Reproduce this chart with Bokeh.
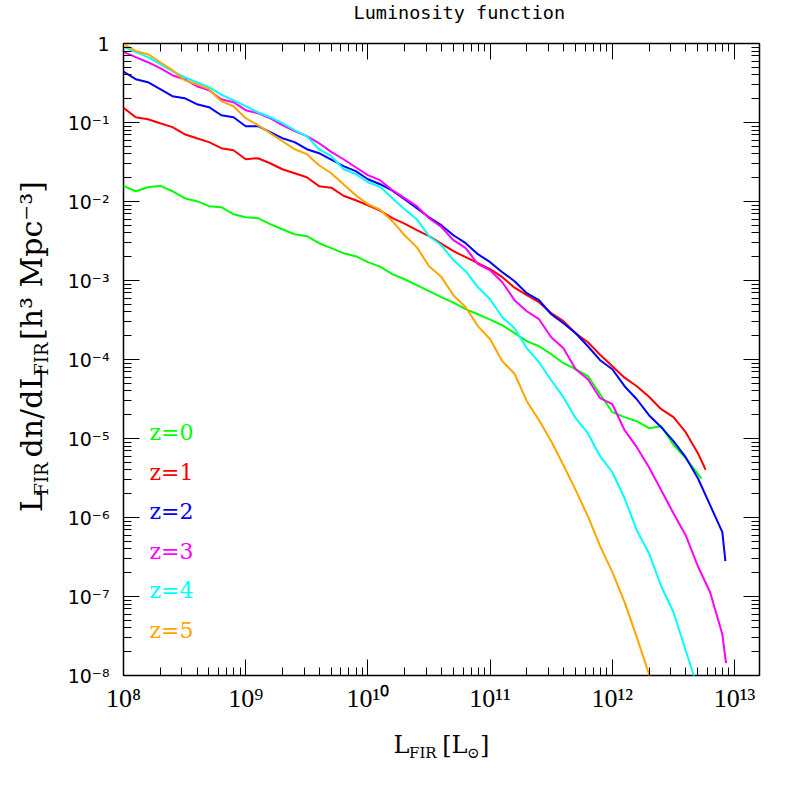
import math
from bokeh.plotting import figure
from bokeh.layouts import column, row
from bokeh.models import Range1d, FixedTicker, LogAxis, Label, CustomJSTickFormatter
from bokeh.core.properties import value
from bokeh.embed import file_html
from bokeh.resources import INLINE

# ---------------- data (log10 values) ----------------
LOG_L = [8.0, 8.1, 8.2, 8.3, 8.4, 8.5, 8.6, 8.7, 8.8, 8.9,
         9.0, 9.1, 9.2, 9.3, 9.4, 9.5, 9.6, 9.7, 9.8, 9.9,
         10.0, 10.1, 10.2, 10.3, 10.4, 10.5, 10.6, 10.7, 10.8, 10.9,
         11.0, 11.1, 11.2, 11.3, 11.4, 11.5, 11.6, 11.7, 11.8, 11.9,
         12.0, 12.1, 12.2, 12.3, 12.4, 12.5, 12.6, 12.7, 12.8, 12.9]

z0_logL = LOG_L[:48] + [12.73]
z0_logphi = [-1.803, -1.870, -1.819, -1.800, -1.870, -1.958, -1.996, -2.059, -2.072, -2.161,
             -2.199, -2.211, -2.287, -2.351, -2.414, -2.439, -2.528, -2.591, -2.654, -2.692,
             -2.768, -2.825, -2.920, -2.984, -3.059, -3.135, -3.211, -3.281, -3.363, -3.427,
             -3.496, -3.566, -3.667, -3.768, -3.832, -3.933, -4.047, -4.123, -4.211, -4.440,
             -4.667, -4.730, -4.781, -4.870, -4.844, -5.080, -5.249, -5.452, -5.509]

z1_logL = LOG_L[:48] + [12.763]
z1_logphi = [-0.815, -0.933, -0.958, -1.009, -1.059, -1.148, -1.199, -1.249, -1.325, -1.351,
             -1.465, -1.452, -1.516, -1.592, -1.642, -1.693, -1.806, -1.825, -1.927, -1.984,
             -2.047, -2.116, -2.211, -2.281, -2.363, -2.439, -2.534, -2.629, -2.705, -2.781,
             -2.857, -2.958, -3.091, -3.186, -3.275, -3.414, -3.515, -3.667, -3.781, -3.939,
             -4.085, -4.230, -4.338, -4.471, -4.629, -4.730, -4.920, -5.186, -5.395]

z2_logL = LOG_L[:50] + [12.925]
z2_logphi = [-0.357, -0.452, -0.490, -0.578, -0.667, -0.692, -0.768, -0.806, -0.908, -0.933,
             -1.047, -1.047, -1.123, -1.199, -1.249, -1.338, -1.389, -1.471, -1.553, -1.616,
             -1.718, -1.781, -1.863, -1.971, -2.085, -2.199, -2.300, -2.427, -2.528, -2.667,
             -2.768, -2.895, -3.009, -3.161, -3.249, -3.427, -3.541, -3.667, -3.832, -4.009,
             -4.123, -4.338, -4.503, -4.705, -4.857, -5.034, -5.237, -5.503, -5.844, -6.186,
             -6.553]

z3_logL = LOG_L[:50] + [12.93]
z3_logphi = [-0.106, -0.173, -0.237, -0.313, -0.401, -0.452, -0.541, -0.591, -0.705, -0.743,
             -0.844, -0.882, -0.946, -1.034, -1.110, -1.173, -1.262, -1.372, -1.465, -1.566,
             -1.667, -1.730, -1.857, -1.958, -2.059, -2.211, -2.322, -2.490, -2.591, -2.794,
             -2.870, -3.022, -3.249, -3.389, -3.490, -3.718, -3.857, -4.123, -4.249, -4.490,
             -4.566, -4.895, -5.110, -5.363, -5.654, -5.946, -6.224, -6.617, -6.946, -7.477,
             -7.844]

z4_logL = LOG_L[:47] + [12.677]
z4_logphi = [-0.043, -0.110, -0.173, -0.262, -0.351, -0.427, -0.490, -0.553, -0.648, -0.718,
             -0.794, -0.870, -0.933, -1.009, -1.097, -1.173, -1.338, -1.427, -1.589, -1.654,
             -1.756, -1.813, -1.958, -2.099, -2.224, -2.439, -2.553, -2.743, -2.882, -3.085,
             -3.237, -3.465, -3.604, -3.857, -4.035, -4.263, -4.477, -4.743, -4.933, -5.224,
             -5.427, -5.756, -6.161, -6.452, -6.870, -7.199, -7.680, -8.050]

z5_logL = LOG_L[:44] + [12.315]
z5_logphi = [-0.005, -0.097, -0.135, -0.237, -0.338, -0.465, -0.515, -0.578, -0.730, -0.794,
             -0.946, -1.034, -1.135, -1.237, -1.338, -1.401, -1.541, -1.642, -1.781, -1.920,
             -2.034, -2.104, -2.249, -2.427, -2.578, -2.819, -2.954, -3.186, -3.338, -3.578,
             -3.743, -4.022, -4.180, -4.528, -4.768, -5.034, -5.338, -5.654, -5.984, -6.363,
             -6.692, -7.072, -7.515, -7.984, -8.060]

series_labels = ["z=0", "z=1", "z=2", "z=3", "z=4", "z=5"]
series_colors = ["#00ff00", "#ff0000", "#0000ff", "#ff00ff", "#00ffff", "#ffa500"]
series = [(z0_logL, z0_logphi), (z1_logL, z1_logphi), (z2_logL, z2_logphi),
          (z3_logL, z3_logphi), (z4_logL, z4_logphi), (z5_logL, z5_logphi)]

x_major = [1e8, 1e9, 1e10, 1e11, 1e12, 1e13]
y_major = [1e-8, 1e-7, 1e-6, 1e-5, 1e-4, 1e-3, 1e-2, 1e-1, 1.0]

title_text = "Luminosity function"

# ---------------- layout (page pixels) ----------------
X_MIN, X_MAX = 1e8, 1.6e13
Y_MIN, Y_MAX = 1e-8, 1.0
PAGE = 797
LEFT_W = 56          # strip holding the y-axis label
TOP_H = 30           # strip holding the title
BOTTOM_H = 77        # strip holding the x-axis label
FL, FT, FW, FH = 123, 43, 636, 632   # frame position / size on page
MAIN_W = PAGE - LEFT_W
MAIN_H = PAGE - TOP_H - BOTTOM_H

p = figure(width=MAIN_W, height=MAIN_H, x_axis_type="log", y_axis_type="log",
           x_range=Range1d(X_MIN, X_MAX), y_range=Range1d(Y_MIN, Y_MAX),
           output_backend="svg", toolbar_location=None, title=None)
p.min_border = 0
p.min_border_left = FL - LEFT_W
p.min_border_right = MAIN_W - (FL - LEFT_W) - FW
p.min_border_top = FT - TOP_H
p.min_border_bottom = MAIN_H - (FT - TOP_H) - FH
p.xgrid.visible = False
p.ygrid.visible = False
p.background_fill_color = "white"
p.border_fill_color = "white"
p.outline_line_color = "black"
p.outline_line_width = 1.5

x_minor = [m * d for d in x_major for m in range(2, 10) if m * d < X_MAX]
y_minor = [m * d for d in y_major[:-1] for m in range(2, 10)]

fmt_code = """
const e = Math.round(Math.log10(tick));
if (e == 0) { return "1"; }
const sup = {"-": "\u207b", "0": "\u2070", "1": "\u00b9", "2": "\u00b2", "3": "\u00b3",
             "4": "\u2074", "5": "\u2075", "6": "\u2076", "7": "\u2077", "8": "\u2078", "9": "\u2079"};
return "10" + String(e).split("").map(c => sup[c]).join("");
"""

def style_axis(ax, ticker):
    ax.ticker = ticker
    ax.axis_line_color = None
    ax.major_tick_in = 16
    ax.major_tick_out = 0
    ax.minor_tick_in = 8
    ax.minor_tick_out = 0
    ax.major_tick_line_color = "black"
    ax.minor_tick_line_color = "black"
    ax.major_tick_line_width = 1
    ax.minor_tick_line_width = 1

xt = FixedTicker(ticks=x_major, minor_ticks=x_minor)
yt = FixedTicker(ticks=y_major, minor_ticks=y_minor)

xa = p.xaxis[0]
style_axis(xa, xt)
xa.formatter = CustomJSTickFormatter(code=fmt_code)
xa.major_label_text_font = "Liberation Serif"
xa.major_label_text_font_size = "26px"
xa.major_label_text_color = "black"
xa.major_label_standoff = 8

ya = p.yaxis[0]
style_axis(ya, yt)
ya.formatter = CustomJSTickFormatter(code=fmt_code)
ya.major_label_text_font = "DejaVu Sans"
ya.major_label_text_font_size = "19px"
ya.major_label_text_color = "black"
ya.major_label_standoff = 14

for loc, tk in (("above", xt), ("right", yt)):
    ax = LogAxis()
    style_axis(ax, tk)
    ax.formatter = CustomJSTickFormatter(code="return '';")
    ax.major_label_text_font_size = "0px"
    ax.major_label_standoff = 0
    p.add_layout(ax, loc)

# ---------------- curves ----------------
for (lx, ly), col in zip(series, series_colors):
    p.line([10 ** v for v in lx], [10 ** v for v in ly], line_color=col, line_width=2)

# ---------------- legend texts inside the frame ----------------
LXM = math.log10(X_MAX)
def dx(px):
    return 10 ** (8 + (px - FL) / FW * (LXM - 8))
def dy(py):
    return 10 ** (0 - (py - FT) / FH * 8)

leg_y = [432, 471.5, 511, 550.5, 590, 629.5]
for t, c, yy in zip(series_labels, series_colors, leg_y):
    p.add_layout(Label(x=dx(149), y=dy(yy), x_units="data", y_units="data", text=t,
                       text_font="DejaVu Serif", text_font_size="22px", text_color=c,
                       text_align="left", text_baseline="middle"))

# ---------------- text strips (title, axis labels) ----------------
def strip(w, h):
    f = figure(width=w, height=h, x_range=Range1d(0, w), y_range=Range1d(h, 0),
               output_backend="svg", toolbar_location=None, title=None,
               x_axis_location=None, y_axis_location=None)
    f.min_border = 0
    f.outline_line_color = None
    f.xgrid.visible = False
    f.ygrid.visible = False
    f.background_fill_color = "white"
    f.border_fill_color = "white"
    return f

def txt(f, x, y, s, size, font="DejaVu Serif", angle=0.0, align="left", baseline="middle"):
    f.text(x=[x], y=[y], text=[s], text_font=value(font), text_font_size=value(size),
           text_color="black", angle=angle, text_align=align, text_baseline=baseline)

NB = "\u00a0"

top = strip(PAGE, TOP_H)
txt(top, 353, 12, title_text, "18.5px", font="DejaVu Sans Mono")

bottom = strip(PAGE, BOTTOM_H)
oy = PAGE - BOTTOM_H
txt(bottom, 393.0, 744 - oy, "L", "24px")
txt(bottom, 408.5, 752 - oy, "FIR", "15px")
txt(bottom, 434.0, 744 - oy, NB + "[L", "24px")
txt(bottom, 466.5, 752 - oy, "\u2299", "15px")
txt(bottom, 479.5, 744 - oy, "]", "24px")

left = strip(LEFT_W, MAIN_H)
A = math.pi / 2
ty = TOP_H
# parts centred at their own positions (page y), reading upwards
txt(left, 31, 531.0 - ty, "L", "30px", angle=A, align="center")
txt(left, 41, 505.5 - ty, "FIR", "18px", angle=A, align="center")
txt(left, 31, 434.0 - ty, "dn/dL", "30px", angle=A, align="center")
txt(left, 41, 374.6 - ty, "FIR", "18px", angle=A, align="center")
txt(left, 31, 267.0 - ty, "[h\u00b3 Mpc\u207b\u00b3]", "30px", angle=A, align="center")

layout = column(top, row(left, p), bottom)
open("out.html", "w").write(file_html(layout, INLINE))
